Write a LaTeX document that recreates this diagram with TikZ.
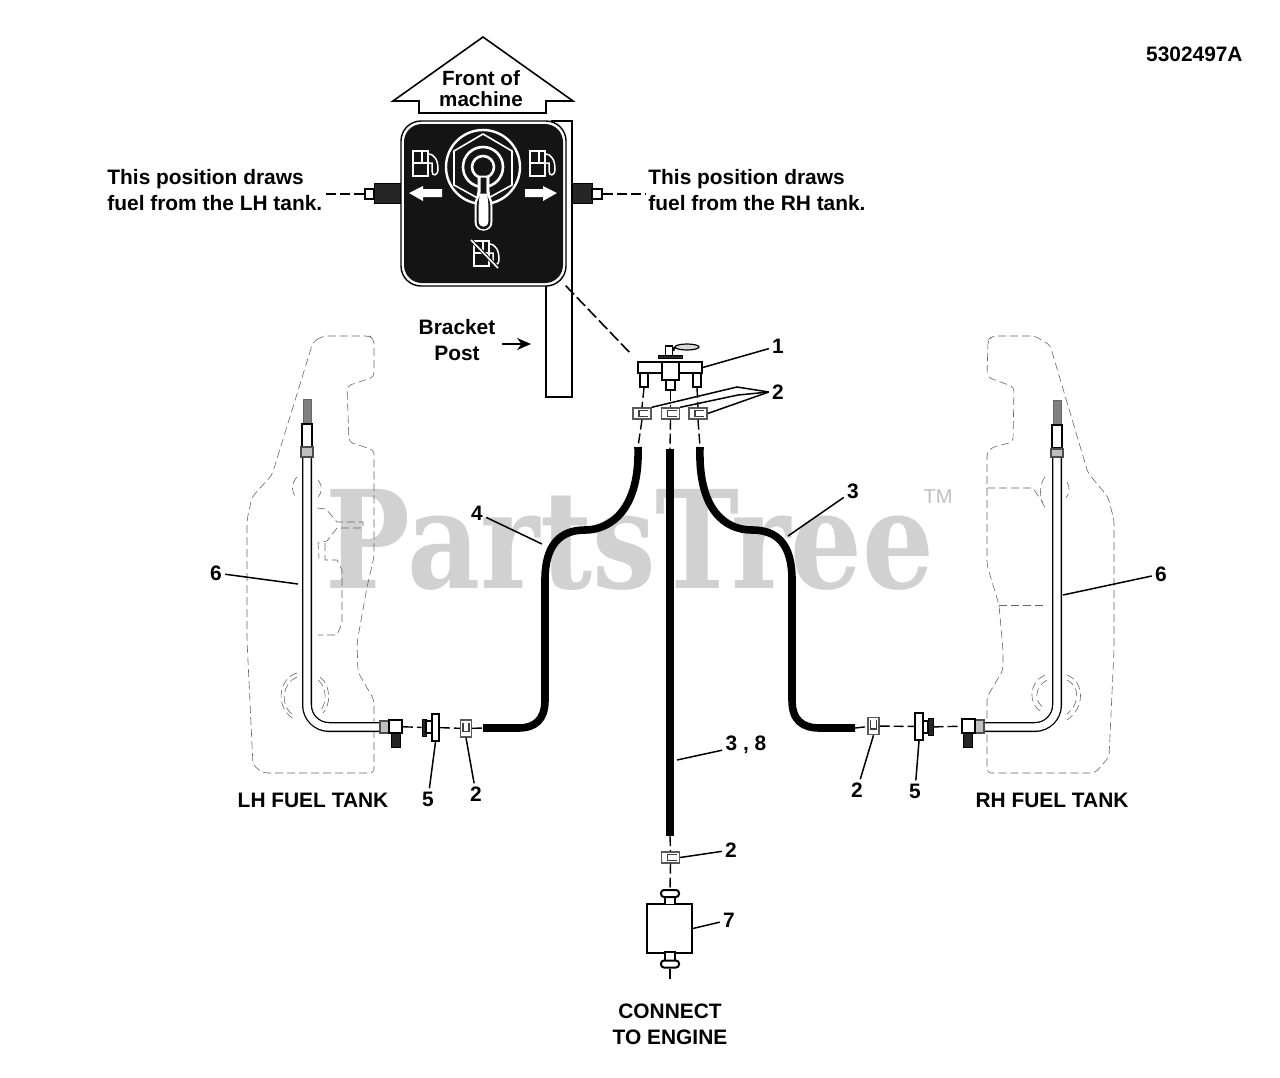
\documentclass[tikz,border=0pt]{standalone}
\usepackage{fontspec}
\usetikzlibrary{shapes.geometric,arrows.meta}
\setmainfont{Liberation Sans}
\newfontfamily\markfont{DejaVu Serif}
\tikzset{
    lbl/.style={font=\bfseries\fontsize{10.45}{13}\selectfont,align=center,inner sep=1.5pt},
    leader/.style={line width=0.75pt},
    dashln/.style={line width=0.7pt,dash pattern=on 5pt off 2pt},
    tankln/.style={line width=0.3pt,black!60,dash pattern=on 4pt off 2pt},
    hose/.style={line width=3.8pt},
    clipbox/.style={draw=black!65,fill=white,line width=0.7pt,inner sep=0pt,minimum width=9pt,minimum height=5.5pt},
    clipboxv/.style={clipbox,minimum width=5.5pt,minimum height=8.5pt},
    clipmark/.style={line width=0.6pt,black!75},
    part/.style={draw,line width=0.8pt,fill=white,inner sep=0pt},
    solidpart/.style={draw,line width=0.5pt,fill=black!85,inner sep=0pt},
    clampbox/.style={draw=black!70,fill=black!25,line width=0.7pt,inner sep=0pt},
    gauze/.style={draw=black!60,fill=black!50,line width=0.3pt,inner sep=0pt,minimum width=4pt,minimum height=12.5pt},
    whiteln/.style={white,line width=0.75pt},
    pumpicon/.pic={
        \draw[whiteln] (0,0) rectangle (15,25);
        \draw[whiteln] (0,12) -- (15,12) (9,0) -- (9,12);
        \draw[whiteln] (15,3) .. controls (22,3) and (25,10) .. (25,18) .. controls (25,25) and (19,26) .. (19,20) -- (19,12) -- (15,12);
    }
}
\begin{document}
\begin{tikzpicture}[x=0.5pt,y=-0.5pt]
    \useasboundingbox (0,0) rectangle (1280,1077);

    \node[font=\markfont\bfseries\fontsize{68}{68}\selectfont,text=black!18,anchor=base,inner sep=0pt] (mark) at (630,588) {\scalebox{0.83}[1]{PartsTree}};
    \node[font=\fontsize{10}{10}\selectfont,text=black!25,inner sep=0pt] (markTM) at (938,497) {TM};

    \node[lbl,anchor=east] (code) at (1246,54) {5302497A};

    % front arrow
    \draw[line width=0.8pt] (483,37) -- (573,101) -- (546,101) -- (546,113) -- (419,113) -- (419,101) -- (393,101) -- cycle;
    \node[lbl,font=\bfseries\fontsize{10.3}{10.5}\selectfont] (front) at (481,89) {Front of\\machine};

    % bracket post
    \draw[line width=0.8pt] (551,121) -- (572,121) -- (572,397) -- (546,397) -- (546,285);
    \node[lbl] (post) at (457,340) {Bracket\\Post};
    \coordinate (postIn) at (531,344);
    \draw[-{Stealth[length=7pt,width=6pt]},line width=1pt] (post) ++(45,0) ++(0,4) -- (postIn);

    % selector panel
    \node[solidpart,minimum width=14pt,minimum height=10pt] (nutL) at (388,193) {};
    \node[part,minimum width=4.5pt,minimum height=5pt] (tipL) at (369.5,194) {};
    \node[solidpart,minimum width=10pt,minimum height=10pt] (nutR) at (582,193) {};
    \node[part,minimum width=5pt,minimum height=5pt] (tipR) at (597,194) {};
    \node[draw,fill=white,line width=0.7pt,rounded corners=10pt,minimum width=82.5pt,minimum height=82.5pt,inner sep=0pt] (panel) at (483.5,203.5) {};
    \node[fill=black!92,rounded corners=9pt,minimum width=79.5pt,minimum height=79.5pt,inner sep=0pt] (panelIn) at (483.5,203.5) {};

    \draw[white,line width=1.2pt] (483,167) circle (37);
    \draw[whiteln,line width=0.8pt] (483,134) -- (512,151) -- (512,185) -- (483,201) -- (454,185) -- (454,151) -- cycle;
    \draw[white,line width=1.3pt] (483,167) circle (20);
    \draw[white,line width=1.3pt] (483,167) circle (11);
    \filldraw[white] (478,176) -- (478,190) .. controls (478,196) and (475,199) .. (475,206) -- (475,222) .. controls (475,233) and (492,233) .. (492,222) -- (492,206) .. controls (492,199) and (489,196) .. (489,190) -- (489,176) -- cycle;
    \filldraw[black!92] (481,178) -- (481,192) .. controls (481,197) and (477,200) .. (477,206) -- (477,222) .. controls (477,231) and (490,231) .. (490,222) -- (490,206) .. controls (490,200) and (486,197) .. (486,192) -- (486,178) -- cycle;
    \filldraw[white] (480,194) .. controls (480,199) and (479,202) .. (479,207) -- (479,221) .. controls (479,228) and (488,228) .. (488,221) -- (488,207) .. controls (488,202) and (487,199) .. (487,194) -- cycle;

    \pic at (413,151) {pumpicon};
    \pic at (530,151) {pumpicon};
    \pic at (474,241) {pumpicon};
    \draw[black!92,line width=1.8pt] (471,240) -- (498,268);
    \draw[whiteln,line width=0.8pt] (471,240) -- (498,268);
    \fill[white] (409,193) -- (423,186) -- (423,189) -- (442,189) -- (442,197) -- (423,197) -- (423,201) -- cycle;
    \fill[white] (557,193) -- (543,186) -- (543,189) -- (525,189) -- (525,197) -- (543,197) -- (543,201) -- cycle;

    \node[lbl,align=left,anchor=west] (drawL) at (104,190) {This position draws\\fuel from the LH tank.};
    \node[lbl,align=left,anchor=west] (drawR) at (645,190) {This position draws\\fuel from the RH tank.};
    \draw[dashln] (drawL.east |- tipL) -- (tipL);
    \draw[dashln] (tipR) -- (drawR.west |- tipR);

    % tank outlines
    \draw[tankln,rounded corners=2pt] (313,342) -- (323,336) -- (370,336) -- (374,340) -- (374,377) -- (347,386) -- (349,442) -- (374,450) -- (374,557) -- (367,587) -- (357,643) -- (358,672) -- (374,700) -- (374,773) -- (263,773) -- (253,765) -- (247,640) -- (247,520) -- (252,497) -- (272,475) -- cycle;
    \draw[tankln] (297,477) .. controls (290,484) and (292,494) .. (297,498);
    \draw[tankln] (318,480) .. controls (323,485) and (322,493) .. (318,497);
    \draw[tankln] (317,508) -- (326,509) -- (337,522) -- (363,522) -- (363,528) -- (337,528) -- (327,541) -- (318,543) -- (319,558);
    \draw[tankln] (325,543) -- (325,560) -- (337,560) -- (342,570) -- (342,623) -- (337,635) -- (318,635);
    \draw[tankln] (297,673) .. controls (278,678) and (274,710) .. (296,720);
    \draw[tankln] (297,677) .. controls (283,682) and (279,705) .. (293,715);
    \draw[tankln] (320,677) .. controls (331,685) and (331,705) .. (323,713);
    \draw[tankln] (318,680) .. controls (327,687) and (327,702) .. (321,710);

    \draw[tankln,rounded corners=2pt] (988,340) -- (992,336) -- (1035,336) -- (1050,345) -- (1088,473) -- (1108,497) -- (1114,520) -- (1114,650) -- (1109,757) -- (1095,773) -- (987,773) -- (987,697) -- (1003,670) -- (1003,650) -- (999,605) -- (987,565) -- (987,452) -- (993,447) -- (1013,442) -- (1014,387) -- (987,377) -- cycle;
    \draw[tankln] (987,488) -- (1033,488) -- (1043,503);
    \draw[tankln] (1045,477) .. controls (1039,484) and (1039,500) .. (1045,507);
    \draw[tankln] (1067,482) .. controls (1070,487) and (1070,493) .. (1066,498);
    \draw[tankln] (999,605) -- (1043,605);
    \draw[tankln] (1045,675) .. controls (1028,683) and (1028,705) .. (1042,712);
    \draw[tankln] (1047,680) .. controls (1034,687) and (1034,702) .. (1044,708);
    \draw[tankln] (1067,675) .. controls (1085,682) and (1085,708) .. (1067,720);
    \draw[tankln] (1067,680) .. controls (1080,686) and (1080,704) .. (1067,714);

    % valve
    \node[part,minimum width=32pt,minimum height=5.5pt] (valve) at (670,367.5) {};
    \node[part,minimum width=4pt,minimum height=7pt] (nipL) at (644,380) {};
    \node[part,minimum width=4pt,minimum height=7pt] (nipR) at (697,380) {};
    \node[part,minimum width=4.5pt,minimum height=5pt] (nipC) at (670.5,385) {};
    \node[part,minimum width=8.5pt,minimum height=9pt] (valveC) at (670.5,371) {};
    \node[part,minimum width=3.5pt,minimum height=5pt] (valveStem) at (669,351) {};
    \node[part,ellipse,minimum width=12pt,minimum height=3pt,fill=black!15,line width=0.6pt] (valveLever) at (687,347) {};
    \draw[line width=1pt] (valveStem.east) -- (valveLever.west);
    \node[solidpart,minimum width=12pt,minimum height=1.5pt] (valveNut) at (670,356.5) {};
    \draw[line width=0.8pt,dash pattern=on 6pt off 2pt] (panel.south east) ++(-1,-1) -- (632,355);

    % clips
    \node[clipbox] (clipA) at (642,413.5) {};
    \node[clipbox] (clipB) at (670.5,413.5) {};
    \node[clipbox] (clipC) at (698,413.5) {};
    \node[clipbox] (clipD) at (670.5,857.5) {};
    \node[clipboxv] (clipE) at (466,728.5) {};
    \node[clipboxv] (clipF) at (873.5,726) {};
    \foreach \n in {clipA,clipB,clipC,clipD} {
        \draw[clipmark,shift={(\n)}] (6,-3) -- (-3,-3) -- (-3,3) -- (6,3);
    }
    \foreach \n in {clipE,clipF} {
        \draw[clipmark,shift={(\n)}] (-3,-6) -- (-3,3) -- (3,3) -- (3,-6);
    }

    % hoses
    \coordinate (hoseA) at (638,447);
    \coordinate (hoseB) at (670,449);
    \coordinate (hoseC) at (700,447);
    \coordinate (hoseBend) at (670,836);
    \coordinate (hoseE) at (483,728);
    \coordinate (hoseF) at (855,728);
    \draw[hose] (hoseA) .. controls (640,510) and (610,530) .. (585,530) .. controls (560,530) and (545,545) .. (545,580) -- (545,700) .. controls (545,720) and (535,728) .. (518,728) -- (hoseE);
    \draw[hose] (hoseC) .. controls (698,510) and (725,530) .. (752,530) .. controls (778,530) and (792,545) .. (792,580) -- (792,700) .. controls (792,720) and (802,728) .. (820,728) -- (hoseF);
    \draw[hose] (hoseB) -- (hoseBend);

    \draw[dashln] (nipL.south) -- (clipA.north);
    \draw[dashln] (clipA.south) -- (hoseA);
    \draw[dashln] (nipC.south) -- (clipB.north);
    \draw[dashln] (clipB.south) -- (hoseB);
    \draw[dashln] (nipR.south) -- (clipC.north);
    \draw[dashln] (clipC.south) -- (hoseC);

    % filter
    \node[part,minimum width=22.5pt,minimum height=24.5pt] (filter) at (669.5,928.5) {};
    \node[part,minimum width=5pt,minimum height=5pt] (filterT) at (670,899.5) {};
    \node[part,rounded corners=1.5pt,minimum width=9pt,minimum height=3.5pt,line width=1pt] (flangeT) at (670,893.5) {};
    \node[part,minimum width=5pt,minimum height=5pt] (filterB) at (670,957) {};
    \node[part,rounded corners=1.5pt,minimum width=9pt,minimum height=3.5pt,line width=1pt] (flangeB) at (670,964) {};
    \draw[dashln] (hoseBend) -- (clipD.north);
    \draw[dashln] (clipD.south) -- (flangeT.north);
    \node[lbl] (engine) at (670,1024) {CONNECT\\TO ENGINE};
    \coordinate (engineIn) at (670,981);
    \draw[dashln] (flangeB.south) -- (engineIn);

    % left tube
    \draw[line width=5pt,rounded corners=11pt] (307,457) -- (307,727) -- (381,727);
    \draw[white,line width=3.7pt,rounded corners=11pt] (307,457) -- (307,727) -- (381,727);
    \node[gauze] (gauzeL) at (307,411.5) {};
    \node[part,line width=1pt,minimum width=5pt,minimum height=11.5pt] (capL) at (307,435.5) {};
    \node[clampbox,minimum width=6pt,minimum height=5pt] (clampL) at (307,452) {};
    \node[clampbox,minimum width=4.5pt,minimum height=6pt] (clampL2) at (384.5,727) {};
    \node[part,minimum width=6.5pt,minimum height=6.5pt] (elbowL) at (395.5,726.5) {};
    \node[solidpart,minimum width=4.5pt,minimum height=7pt] (elbowL2) at (395.5,740) {};
    \node[solidpart,minimum width=2pt,minimum height=8.5pt] (capL5) at (424,727.5) {};
    \node[part,minimum width=3pt,minimum height=6pt] (bodyL5) at (429,727) {};
    \node[part,line width=1pt,minimum width=3.5pt,minimum height=13.5pt] (flangeL5) at (435.5,727.5) {};
    \draw[dashln] (elbowL) -- (capL5);
    \draw[dashln] (flangeL5) -- (clipE);
    \draw[dashln] (clipE) -- (hoseE);

    % right tube
    \draw[line width=5pt,rounded corners=11pt] (1057,457) -- (1057,727) -- (983,727);
    \draw[white,line width=3.7pt,rounded corners=11pt] (1057,457) -- (1057,727) -- (983,727);
    \node[gauze] (gauzeR) at (1057,413) {};
    \node[part,line width=1pt,minimum width=5pt,minimum height=11.5pt] (capR) at (1057,436.5) {};
    \node[clampbox,minimum width=6pt,minimum height=4pt] (clampR) at (1057,453) {};
    \node[clampbox,minimum width=4.5pt,minimum height=6.5pt] (clampR2) at (979.5,726.5) {};
    \node[part,minimum width=6.5pt,minimum height=7pt] (elbowR) at (968.5,726) {};
    \node[solidpart,minimum width=4.5pt,minimum height=7pt] (elbowR2) at (967.5,740) {};
    \node[solidpart,minimum width=2.5pt,minimum height=8.5pt] (capR5) at (930.5,727) {};
    \node[part,minimum width=2.5pt,minimum height=6pt] (bodyR5) at (925.5,727) {};
    \node[part,line width=1pt,minimum width=4pt,minimum height=13.5pt] (flangeR5) at (919,726.5) {};
    \draw[dashln] (hoseF) -- (clipF);
    \draw[dashln] (clipF) -- (flangeR5);
    \draw[dashln] (capR5) -- (elbowR);

    % part numbers
    \node[lbl] (no1) at (778,346) {1};
    \node[lbl] (no2top) at (778,392) {2};
    \node[lbl] (no3) at (853,491) {3};
    \node[lbl] (no4) at (477,513) {4};
    \node[lbl] (no6L) at (216,573) {6};
    \node[lbl] (no6R) at (1161,574) {6};
    \node[lbl] (no38) at (746,745) {3 , 8};
    \node[lbl] (no2D) at (731,850) {2};
    \node[lbl] (no7) at (729,920) {7};
    \node[lbl] (no5L) at (428,799) {5};
    \node[lbl] (no2E) at (476,794) {2};
    \node[lbl] (no2F) at (857,790) {2};
    \node[lbl] (no5R) at (915,791) {5};
    \node[lbl] (tankL) at (313,800) {LH FUEL TANK};
    \node[lbl] (tankR) at (1052,800) {RH FUEL TANK};

    \coordinate (kneeA) at (737,387);
    \coordinate (kneeB) at (738,395);
    \coordinate (on3) at (788,536);
    \coordinate (on4) at (542,544);
    \coordinate (on6L) at (298,584);
    \coordinate (on6R) at (1063,595);
    \coordinate (on38) at (677,760);

    \draw[leader] (no1) -- (valve.east);
    \draw[leader] (clipA.north east) -- (kneeA) -- (no2top.west);
    \draw[leader] (clipB.north east) -- (kneeB) -- (no2top.west);
    \draw[leader] (clipC.east) -- (no2top.west);
    \draw[leader] (no3) -- (on3);
    \draw[leader] (no4) -- (on4);
    \draw[leader] (no6L) -- (on6L);
    \draw[leader] (no6R) -- (on6R);
    \draw[leader] (no38) -- (on38);
    \draw[leader] (no2D) -- (clipD.east);
    \draw[leader] (no7) -- (filter.east);
    \draw[leader] (no5L) -- (flangeL5.south);
    \draw[leader] (no2E) -- (clipE.south);
    \draw[leader] (no2F) -- (clipF.south);
    \draw[leader] (no5R) -- (flangeR5.south);
\end{tikzpicture}
\end{document}
